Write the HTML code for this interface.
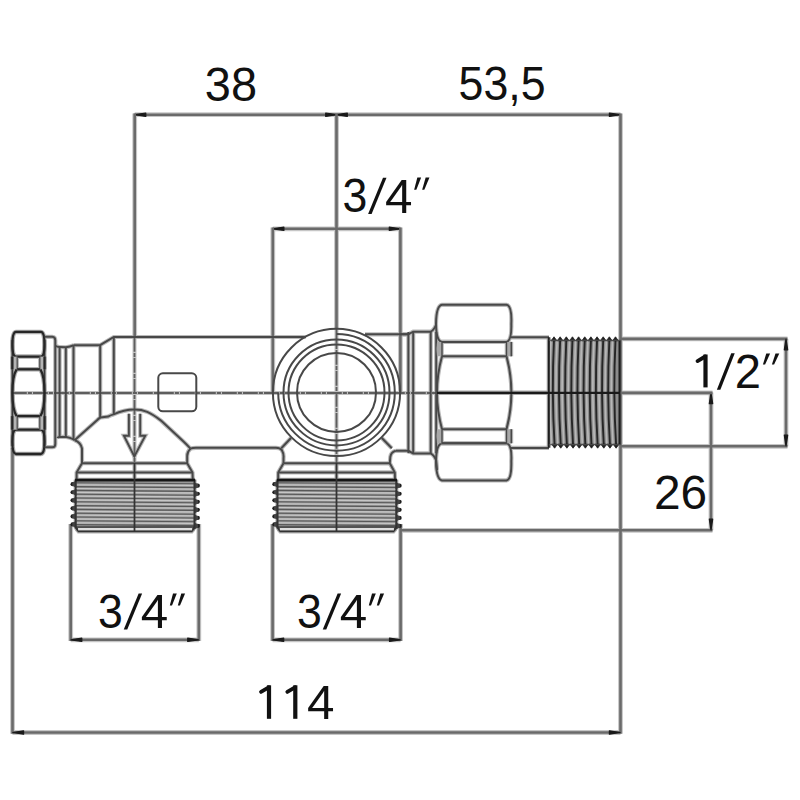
<!DOCTYPE html>
<html><head><meta charset="utf-8"><style>
html,body{margin:0;padding:0;background:#fff;}
svg{display:block;}
</style></head><body>
<svg width="800" height="800" viewBox="0 0 800 800">
<rect width="800" height="800" fill="#fff"/>
<line x1="134.7" y1="114.7" x2="620.5" y2="114.7" stroke="#c6c6c6" stroke-width="4.80" />
<line x1="134.7" y1="113.4" x2="134.7" y2="337" stroke="#c6c6c6" stroke-width="4.80" />
<line x1="336.5" y1="113.4" x2="336.5" y2="329" stroke="#c6c6c6" stroke-width="4.80" />
<line x1="620.5" y1="113.4" x2="620.5" y2="733.8" stroke="#c6c6c6" stroke-width="4.80" />
<line x1="272.8" y1="228.8" x2="400.4" y2="228.8" stroke="#c6c6c6" stroke-width="4.80" />
<line x1="272.8" y1="227.5" x2="272.8" y2="392.4" stroke="#c6c6c6" stroke-width="4.80" />
<line x1="400.4" y1="227.5" x2="400.4" y2="392.4" stroke="#c6c6c6" stroke-width="4.80" />
<line x1="12.5" y1="448" x2="12.5" y2="733.8" stroke="#c6c6c6" stroke-width="4.80" />
<line x1="12.5" y1="732.5" x2="620.5" y2="732.5" stroke="#c6c6c6" stroke-width="4.80" />
<line x1="70.7" y1="524" x2="70.7" y2="641" stroke="#c6c6c6" stroke-width="4.80" />
<line x1="198.8" y1="524" x2="198.8" y2="641" stroke="#c6c6c6" stroke-width="4.80" />
<line x1="70.7" y1="639.8" x2="198.8" y2="639.8" stroke="#c6c6c6" stroke-width="4.80" />
<line x1="272.6" y1="524" x2="272.6" y2="641" stroke="#c6c6c6" stroke-width="4.80" />
<line x1="400.6" y1="524" x2="400.6" y2="641" stroke="#c6c6c6" stroke-width="4.80" />
<line x1="272.6" y1="639.8" x2="400.6" y2="639.8" stroke="#c6c6c6" stroke-width="4.80" />
<line x1="620.5" y1="338.9" x2="787.5" y2="338.9" stroke="#c6c6c6" stroke-width="4.80" />
<line x1="620.5" y1="446.3" x2="787.5" y2="446.3" stroke="#c6c6c6" stroke-width="4.80" />
<line x1="786" y1="338.9" x2="786" y2="446.3" stroke="#c6c6c6" stroke-width="4.80" />
<line x1="400.6" y1="530.3" x2="712.5" y2="530.3" stroke="#c6c6c6" stroke-width="4.80" />
<line x1="711" y1="392.6" x2="711" y2="530.3" stroke="#c6c6c6" stroke-width="4.80" />
<line x1="12" y1="393.0" x2="438" y2="393.0" stroke="#c1c1c1" stroke-width="4.00" />
<line x1="134.5" y1="337" x2="134.5" y2="463" stroke="#c1c1c1" stroke-width="4.00" />
<line x1="336.5" y1="329" x2="336.5" y2="463" stroke="#c1c1c1" stroke-width="4.00" />
<line x1="12.4" y1="340" x2="12.4" y2="446" stroke="#b4b4b4" stroke-width="4.00" />
<line x1="44.5" y1="340" x2="44.5" y2="446" stroke="#b4b4b4" stroke-width="4.00" />
<path d="M16.0,331.9 L40.9,331.9 C43.7,331.9 44.5,337.46 44.5,344.25 C44.5,351.04 43.7,356.6 40.9,356.6 L16.0,356.6 C13.200000000000001,356.6 12.4,351.04 12.4,344.25 C12.4,337.46 13.200000000000001,331.9 16.0,331.9 Z" fill="none" stroke="#acacac" stroke-width="4.50" />
<path d="M16.0,429.7 L40.9,429.7 C43.7,429.7 44.5,435.17 44.5,441.85 C44.5,448.53 43.7,454.0 40.9,454.0 L16.0,454.0 C13.200000000000001,454.0 12.4,448.53 12.4,441.85 C12.4,435.17 13.200000000000001,429.7 16.0,429.7 Z" fill="none" stroke="#acacac" stroke-width="4.50" />
<line x1="12.4" y1="356.6" x2="12.4" y2="369.3" stroke="#acacac" stroke-width="4.50" />
<line x1="44.5" y1="356.6" x2="44.5" y2="369.3" stroke="#acacac" stroke-width="4.50" />
<line x1="17.2" y1="356.6" x2="17.2" y2="369.3" stroke="#bebebe" stroke-width="3.60" />
<line x1="39.8" y1="356.6" x2="39.8" y2="369.3" stroke="#bebebe" stroke-width="3.60" />
<line x1="17.2" y1="369.3" x2="39.8" y2="369.3" stroke="#acacac" stroke-width="4.50" />
<line x1="12.4" y1="416.1" x2="12.4" y2="429.7" stroke="#acacac" stroke-width="4.50" />
<line x1="44.5" y1="416.1" x2="44.5" y2="429.7" stroke="#acacac" stroke-width="4.50" />
<line x1="17.2" y1="416.1" x2="17.2" y2="429.7" stroke="#bebebe" stroke-width="3.60" />
<line x1="39.8" y1="416.1" x2="39.8" y2="429.7" stroke="#bebebe" stroke-width="3.60" />
<line x1="17.2" y1="416.1" x2="39.8" y2="416.1" stroke="#acacac" stroke-width="4.50" />
<path d="M16.599999999999998,369.3 C13.0,375 12.4,384 12.4,392.7 C12.4,401.4 13.0,410.4 16.599999999999998,416.1" fill="none" stroke="#acacac" stroke-width="4.50" />
<path d="M40.4,369.3 C43.9,375 44.5,384 44.5,392.7 C44.5,401.4 43.9,410.4 40.4,416.1" fill="none" stroke="#acacac" stroke-width="4.50" />
<path d="M44.6,336.8 L52.3,336.8 Q55.3,337 55.3,340.5 L55.3,444 Q55.3,447.2 52.3,447.2 L44.6,447.2" fill="none" stroke="#b9b9b9" stroke-width="4.20" />
<path d="M55.3,345.8 Q57,347 59.5,347 L66,347.3 Q70,346.5 73.7,345.2" fill="none" stroke="#b9b9b9" stroke-width="4.20" />
<path d="M57.2,438 Q58,437 59.5,436.9 L66.3,436.9 Q70,437.5 73.2,439.2 L74.6,440.3" fill="none" stroke="#b9b9b9" stroke-width="4.20" />
<line x1="59.6" y1="347" x2="59.6" y2="437" stroke="#b9b9b9" stroke-width="4.20" />
<line x1="65.8" y1="347" x2="65.8" y2="437" stroke="#b9b9b9" stroke-width="4.20" />
<line x1="73.5" y1="345.2" x2="73.5" y2="439.5" stroke="#b9b9b9" stroke-width="4.20" />
<path d="M73.5,345.2 L100.0,345.2 L113.8,337.0 L305.8,337.0" fill="none" stroke="#b9b9b9" stroke-width="4.20" />
<line x1="100.2" y1="345.2" x2="100.2" y2="417.5" stroke="#b9b9b9" stroke-width="4.20" />
<line x1="113.8" y1="337.0" x2="113.8" y2="414.6" stroke="#b9b9b9" stroke-width="4.20" />
<path d="M74.6,440.3 L97,420.2 Q99,418.1 100.5,417.5 L108,416.6 Q111,415 113.5,414.4 C120,411.5 127,409.6 134.3,409.6 C144,409.6 150,412 161,420.6 L183.5,441.5 Q187,444.8 190.5,448.6" fill="none" stroke="#b9b9b9" stroke-width="4.20" />
<path d="M74.6,440.3 Q80.5,442 82,448.5 L82,463.2 L76.6,472.5 L76.6,480.5" fill="none" stroke="#b9b9b9" stroke-width="4.20" />
<path d="M190.5,448.6 Q187,452 187.2,456 L187.2,463.2 L192.5,472.5 L192.8,480.5" fill="none" stroke="#b9b9b9" stroke-width="4.20" />
<path d="M190.5,448.6 Q192.5,447.8 196,447.8 L276,447.8 Q280,447.8 281.8,450 Q284,454 283.5,458 L283.5,463.2" fill="none" stroke="#b9b9b9" stroke-width="4.20" />
<line x1="82" y1="463.2" x2="187.2" y2="463.2" stroke="#b9b9b9" stroke-width="4.20" />
<line x1="76.6" y1="472.4" x2="192.5" y2="472.4" stroke="#b9b9b9" stroke-width="4.20" />
<path d="M283.5,463.2 L278.2,472.5 L278.2,480.5" fill="none" stroke="#b9b9b9" stroke-width="4.20" />
<path d="M395.8,450.8 Q391,452 390.3,457 L389.8,463.2 L394.8,472.5 L395,480.5" fill="none" stroke="#b9b9b9" stroke-width="4.20" />
<line x1="283.5" y1="463.3" x2="389.8" y2="463.3" stroke="#b9b9b9" stroke-width="4.20" />
<line x1="278.2" y1="472.4" x2="394.8" y2="472.4" stroke="#b9b9b9" stroke-width="4.20" />
<path d="M128.9,413.8 L128.9,435.8 L123.9,435.8 L134.3,456.4 L145.3,435.8 L140.2,435.8 L140.2,413.8" fill="none" stroke="#b9b9b9" stroke-width="4.10" />
<line x1="75.6" y1="479.6" x2="75.6" y2="528.2" stroke="#b1b1b1" stroke-width="4.00" />
<line x1="194.60000000000002" y1="479.6" x2="194.60000000000002" y2="528.2" stroke="#b1b1b1" stroke-width="4.00" />
<line x1="75.1" y1="480.20000000000005" x2="195.10000000000002" y2="480.20000000000005" stroke="#a6a6a6" stroke-width="5.00" />
<path d="M75.6,527.2 L78.6,531.2 L191.60000000000002,531.2 L194.60000000000002,527.2" fill="none" stroke="#b1b1b1" stroke-width="4.40" />
<line x1="75.6" y1="527.0" x2="194.60000000000002" y2="527.0" stroke="#b1b1b1" stroke-width="3.80" />
<line x1="277.4" y1="479.6" x2="277.4" y2="528.2" stroke="#b1b1b1" stroke-width="4.00" />
<line x1="396.40000000000003" y1="479.6" x2="396.40000000000003" y2="528.2" stroke="#b1b1b1" stroke-width="4.00" />
<line x1="276.9" y1="480.20000000000005" x2="396.90000000000003" y2="480.20000000000005" stroke="#a6a6a6" stroke-width="5.00" />
<path d="M277.4,527.2 L280.4,531.2 L393.40000000000003,531.2 L396.40000000000003,527.2" fill="none" stroke="#b1b1b1" stroke-width="4.40" />
<line x1="277.4" y1="527.0" x2="396.40000000000003" y2="527.0" stroke="#b1b1b1" stroke-width="3.80" />
<line x1="134.5" y1="463" x2="134.5" y2="531.5" stroke="#b1b1b1" stroke-width="4.00" />
<line x1="336.5" y1="463" x2="336.5" y2="531.5" stroke="#b1b1b1" stroke-width="4.00" />
<line x1="291" y1="438" x2="281.3" y2="448.2" stroke="#b9b9b9" stroke-width="4.20" />
<line x1="381.8" y1="438" x2="391.8" y2="448.2" stroke="#b9b9b9" stroke-width="4.20" />
<line x1="365" y1="334.3" x2="408.5" y2="334.3" stroke="#b9b9b9" stroke-width="4.20" />
<path d="M400.4,334.3 L408.4,334.3 L413.2,331.7 L430.7,331.7 Q434,330 436.2,324.5" fill="none" stroke="#b9b9b9" stroke-width="4.20" />
<path d="M395.8,450.8 L408.4,450.8 L413.2,453.4 L430.7,453.4 Q434,455 436.2,460.5 L437,470" fill="none" stroke="#b9b9b9" stroke-width="4.20" />
<line x1="408.4" y1="332" x2="408.4" y2="453.2" stroke="#b9b9b9" stroke-width="4.20" />
<line x1="413.2" y1="332" x2="413.2" y2="453.2" stroke="#b9b9b9" stroke-width="4.20" />
<line x1="430.7" y1="332" x2="430.7" y2="453.2" stroke="#b9b9b9" stroke-width="4.20" />
<line x1="436.2" y1="332" x2="436.2" y2="453.2" stroke="#b9b9b9" stroke-width="4.20" />
<path d="M442.0,304.8 L506.5,304.8 Q512.1,305.8 511.3,323.9 Q511.8,340.9 506.5,341.9 L442.0,341.9 Q436.2,340.9 436.0,323.9 Q436.2,305.8 442.0,304.8 Z" fill="none" stroke="#b9b9b9" stroke-width="4.20" />
<path d="M442.0,443.3 L506.5,443.3 Q512.1,444.3 511.3,461.3 Q511.8,479.4 506.5,480.4 L442.0,480.4 Q436.2,479.4 436.0,461.3 Q436.2,444.3 442.0,443.3 Z" fill="none" stroke="#b9b9b9" stroke-width="4.20" />
<line x1="511.3" y1="341.9" x2="511.3" y2="356.3" stroke="#b9b9b9" stroke-width="3.80" />
<line x1="442.0" y1="341.9" x2="442.0" y2="356.3" stroke="#b9b9b9" stroke-width="3.60" />
<line x1="506.5" y1="341.9" x2="506.5" y2="356.3" stroke="#b9b9b9" stroke-width="3.60" />
<line x1="442.0" y1="341.9" x2="506.5" y2="341.9" stroke="#b9b9b9" stroke-width="4.20" />
<line x1="442.0" y1="356.3" x2="506.5" y2="356.3" stroke="#b9b9b9" stroke-width="4.20" />
<line x1="511.3" y1="429.2" x2="511.3" y2="443.3" stroke="#b9b9b9" stroke-width="3.80" />
<line x1="442.0" y1="429.2" x2="442.0" y2="443.3" stroke="#b9b9b9" stroke-width="3.60" />
<line x1="506.5" y1="429.2" x2="506.5" y2="443.3" stroke="#b9b9b9" stroke-width="3.60" />
<line x1="442.0" y1="429.2" x2="506.5" y2="429.2" stroke="#b9b9b9" stroke-width="4.20" />
<line x1="442.0" y1="443.3" x2="506.5" y2="443.3" stroke="#b9b9b9" stroke-width="4.20" />
<path d="M442.0,356.3 Q432.0,392.7 442.0,429.2" fill="none" stroke="#b9b9b9" stroke-width="4.20" />
<path d="M506.5,356.3 Q516.3,392.7 506.5,429.2" fill="none" stroke="#b9b9b9" stroke-width="4.20" />
<line x1="511" y1="337.3" x2="549" y2="337.3" stroke="#b9b9b9" stroke-width="4.20" />
<line x1="511" y1="447.9" x2="549" y2="447.9" stroke="#b9b9b9" stroke-width="4.20" />
<line x1="548.8" y1="337.3" x2="548.8" y2="447.7" stroke="#a9a9a9" stroke-width="4.20" />
<line x1="619.6" y1="340.2" x2="619.6" y2="444.8" stroke="#a9a9a9" stroke-width="4.40" />
<line x1="437" y1="392.8" x2="620.5" y2="392.8" stroke="#a7a7a7" stroke-width="4.40" />
<line x1="620.5" y1="392.9" x2="712.5" y2="392.9" stroke="#c6c6c6" stroke-width="4.80" />
<line x1="134.7" y1="114.7" x2="620.5" y2="114.7" stroke="#6a6a6a" stroke-width="2.6" />
<path d="M135.0,114.7 L145.80,113.00 L145.80,116.40 Z" fill="#1a1a1a" stroke="#1a1a1a" stroke-width="1.2" stroke-linejoin="round"/>
<path d="M336.5,114.7 L325.70,116.40 L325.70,113.00 Z" fill="#1a1a1a" stroke="#1a1a1a" stroke-width="1.2" stroke-linejoin="round"/>
<path d="M336.5,114.7 L347.30,113.00 L347.30,116.40 Z" fill="#1a1a1a" stroke="#1a1a1a" stroke-width="1.2" stroke-linejoin="round"/>
<path d="M620.2,114.7 L609.40,116.40 L609.40,113.00 Z" fill="#1a1a1a" stroke="#1a1a1a" stroke-width="1.2" stroke-linejoin="round"/>
<line x1="134.7" y1="113.4" x2="134.7" y2="337" stroke="#6a6a6a" stroke-width="2.6" />
<line x1="336.5" y1="113.4" x2="336.5" y2="329" stroke="#6a6a6a" stroke-width="2.6" />
<line x1="620.5" y1="113.4" x2="620.5" y2="733.8" stroke="#6a6a6a" stroke-width="2.6" />
<line x1="272.8" y1="228.8" x2="400.4" y2="228.8" stroke="#6a6a6a" stroke-width="2.6" />
<path d="M273.1,228.8 L283.90,227.10 L283.90,230.50 Z" fill="#1a1a1a" stroke="#1a1a1a" stroke-width="1.2" stroke-linejoin="round"/>
<path d="M400.1,228.8 L389.30,230.50 L389.30,227.10 Z" fill="#1a1a1a" stroke="#1a1a1a" stroke-width="1.2" stroke-linejoin="round"/>
<line x1="272.8" y1="227.5" x2="272.8" y2="392.4" stroke="#6a6a6a" stroke-width="2.6" />
<line x1="400.4" y1="227.5" x2="400.4" y2="392.4" stroke="#6a6a6a" stroke-width="2.6" />
<line x1="12.5" y1="448" x2="12.5" y2="733.8" stroke="#6a6a6a" stroke-width="2.6" />
<line x1="12.5" y1="732.5" x2="620.5" y2="732.5" stroke="#6a6a6a" stroke-width="2.6" />
<path d="M12.8,732.5 L23.60,730.80 L23.60,734.20 Z" fill="#1a1a1a" stroke="#1a1a1a" stroke-width="1.2" stroke-linejoin="round"/>
<path d="M620.2,732.5 L609.40,734.20 L609.40,730.80 Z" fill="#1a1a1a" stroke="#1a1a1a" stroke-width="1.2" stroke-linejoin="round"/>
<line x1="70.7" y1="524" x2="70.7" y2="641" stroke="#6a6a6a" stroke-width="2.6" />
<line x1="198.8" y1="524" x2="198.8" y2="641" stroke="#6a6a6a" stroke-width="2.6" />
<line x1="70.7" y1="639.8" x2="198.8" y2="639.8" stroke="#6a6a6a" stroke-width="2.6" />
<path d="M71,639.8 L81.80,638.10 L81.80,641.50 Z" fill="#1a1a1a" stroke="#1a1a1a" stroke-width="1.2" stroke-linejoin="round"/>
<path d="M198.5,639.8 L187.70,641.50 L187.70,638.10 Z" fill="#1a1a1a" stroke="#1a1a1a" stroke-width="1.2" stroke-linejoin="round"/>
<line x1="272.6" y1="524" x2="272.6" y2="641" stroke="#6a6a6a" stroke-width="2.6" />
<line x1="400.6" y1="524" x2="400.6" y2="641" stroke="#6a6a6a" stroke-width="2.6" />
<line x1="272.6" y1="639.8" x2="400.6" y2="639.8" stroke="#6a6a6a" stroke-width="2.6" />
<path d="M272.9,639.8 L283.70,638.10 L283.70,641.50 Z" fill="#1a1a1a" stroke="#1a1a1a" stroke-width="1.2" stroke-linejoin="round"/>
<path d="M400.3,639.8 L389.50,641.50 L389.50,638.10 Z" fill="#1a1a1a" stroke="#1a1a1a" stroke-width="1.2" stroke-linejoin="round"/>
<line x1="620.5" y1="338.9" x2="787.5" y2="338.9" stroke="#6a6a6a" stroke-width="2.6" />
<line x1="620.5" y1="446.3" x2="787.5" y2="446.3" stroke="#6a6a6a" stroke-width="2.6" />
<line x1="786" y1="338.9" x2="786" y2="446.3" stroke="#6a6a6a" stroke-width="2.6" />
<path d="M786,339 L787.70,349.80 L784.30,349.80 Z" fill="#1a1a1a" stroke="#1a1a1a" stroke-width="1.2" stroke-linejoin="round"/>
<path d="M786,446 L784.30,435.20 L787.70,435.20 Z" fill="#1a1a1a" stroke="#1a1a1a" stroke-width="1.2" stroke-linejoin="round"/>
<line x1="400.6" y1="530.3" x2="712.5" y2="530.3" stroke="#6a6a6a" stroke-width="2.6" />
<line x1="711" y1="392.6" x2="711" y2="530.3" stroke="#6a6a6a" stroke-width="2.6" />
<path d="M711,392.9 L712.70,403.70 L709.30,403.70 Z" fill="#1a1a1a" stroke="#1a1a1a" stroke-width="1.2" stroke-linejoin="round"/>
<path d="M711,530 L709.30,519.20 L712.70,519.20 Z" fill="#1a1a1a" stroke="#1a1a1a" stroke-width="1.2" stroke-linejoin="round"/>
<line x1="12" y1="393.0" x2="438" y2="393.0" stroke="#5e5e5e" stroke-width="1.8" stroke-dasharray="14.8 1.1 4 1.1"/>
<line x1="134.5" y1="337" x2="134.5" y2="463" stroke="#5e5e5e" stroke-width="1.8" stroke-dasharray="14.8 1.1 4 1.1"/>
<line x1="336.5" y1="329" x2="336.5" y2="463" stroke="#5e5e5e" stroke-width="1.8" stroke-dasharray="14.8 1.1 4 1.1"/>
<line x1="12.4" y1="340" x2="12.4" y2="446" stroke="#3a3a3a" stroke-width="1.8" />
<line x1="44.5" y1="340" x2="44.5" y2="446" stroke="#3a3a3a" stroke-width="1.8" />
<path d="M16.0,331.9 L40.9,331.9 C43.7,331.9 44.5,337.46 44.5,344.25 C44.5,351.04 43.7,356.6 40.9,356.6 L16.0,356.6 C13.200000000000001,356.6 12.4,351.04 12.4,344.25 C12.4,337.46 13.200000000000001,331.9 16.0,331.9 Z" fill="none" stroke="#262626" stroke-width="2.3" />
<path d="M16.0,429.7 L40.9,429.7 C43.7,429.7 44.5,435.17 44.5,441.85 C44.5,448.53 43.7,454.0 40.9,454.0 L16.0,454.0 C13.200000000000001,454.0 12.4,448.53 12.4,441.85 C12.4,435.17 13.200000000000001,429.7 16.0,429.7 Z" fill="none" stroke="#262626" stroke-width="2.3" />
<rect x="12.4" y="356.6" width="4.799999999999999" height="12.699999999999989" fill="#b4b4b4"/>
<rect x="39.8" y="356.6" width="4.700000000000003" height="12.699999999999989" fill="#b4b4b4"/>
<line x1="12.4" y1="356.6" x2="12.4" y2="369.3" stroke="#262626" stroke-width="2.3" />
<line x1="44.5" y1="356.6" x2="44.5" y2="369.3" stroke="#262626" stroke-width="2.3" />
<line x1="17.2" y1="356.6" x2="17.2" y2="369.3" stroke="#555" stroke-width="1.4" />
<line x1="39.8" y1="356.6" x2="39.8" y2="369.3" stroke="#555" stroke-width="1.4" />
<line x1="17.2" y1="369.3" x2="39.8" y2="369.3" stroke="#262626" stroke-width="2.3" />
<rect x="12.4" y="416.1" width="4.799999999999999" height="13.599999999999966" fill="#b4b4b4"/>
<rect x="39.8" y="416.1" width="4.700000000000003" height="13.599999999999966" fill="#b4b4b4"/>
<line x1="12.4" y1="416.1" x2="12.4" y2="429.7" stroke="#262626" stroke-width="2.3" />
<line x1="44.5" y1="416.1" x2="44.5" y2="429.7" stroke="#262626" stroke-width="2.3" />
<line x1="17.2" y1="416.1" x2="17.2" y2="429.7" stroke="#555" stroke-width="1.4" />
<line x1="39.8" y1="416.1" x2="39.8" y2="429.7" stroke="#555" stroke-width="1.4" />
<line x1="17.2" y1="416.1" x2="39.8" y2="416.1" stroke="#262626" stroke-width="2.3" />
<path d="M16.599999999999998,369.3 C13.0,375 12.4,384 12.4,392.7 C12.4,401.4 13.0,410.4 16.599999999999998,416.1" fill="none" stroke="#262626" stroke-width="2.3" />
<path d="M40.4,369.3 C43.9,375 44.5,384 44.5,392.7 C44.5,401.4 43.9,410.4 40.4,416.1" fill="none" stroke="#262626" stroke-width="2.3" />
<path d="M44.6,336.8 L52.3,336.8 Q55.3,337 55.3,340.5 L55.3,444 Q55.3,447.2 52.3,447.2 L44.6,447.2" fill="none" stroke="#484848" stroke-width="2.0" />
<path d="M55.3,345.8 Q57,347 59.5,347 L66,347.3 Q70,346.5 73.7,345.2" fill="none" stroke="#484848" stroke-width="2.0" />
<path d="M57.2,438 Q58,437 59.5,436.9 L66.3,436.9 Q70,437.5 73.2,439.2 L74.6,440.3" fill="none" stroke="#484848" stroke-width="2.0" />
<line x1="59.6" y1="347" x2="59.6" y2="437" stroke="#484848" stroke-width="2.0" />
<line x1="65.8" y1="347" x2="65.8" y2="437" stroke="#484848" stroke-width="2.0" />
<line x1="73.5" y1="345.2" x2="73.5" y2="439.5" stroke="#484848" stroke-width="2.0" />
<path d="M73.5,345.2 L100.0,345.2 L113.8,337.0 L305.8,337.0" fill="none" stroke="#484848" stroke-width="2.0" />
<line x1="100.2" y1="345.2" x2="100.2" y2="417.5" stroke="#484848" stroke-width="2.0" />
<line x1="113.8" y1="337.0" x2="113.8" y2="414.6" stroke="#484848" stroke-width="2.0" />
<path d="M74.6,440.3 L97,420.2 Q99,418.1 100.5,417.5 L108,416.6 Q111,415 113.5,414.4 C120,411.5 127,409.6 134.3,409.6 C144,409.6 150,412 161,420.6 L183.5,441.5 Q187,444.8 190.5,448.6" fill="none" stroke="#484848" stroke-width="2.0" />
<path d="M74.6,440.3 Q80.5,442 82,448.5 L82,463.2 L76.6,472.5 L76.6,480.5" fill="none" stroke="#484848" stroke-width="2.0" />
<path d="M190.5,448.6 Q187,452 187.2,456 L187.2,463.2 L192.5,472.5 L192.8,480.5" fill="none" stroke="#484848" stroke-width="2.0" />
<path d="M190.5,448.6 Q192.5,447.8 196,447.8 L276,447.8 Q280,447.8 281.8,450 Q284,454 283.5,458 L283.5,463.2" fill="none" stroke="#484848" stroke-width="2.0" />
<line x1="82" y1="463.2" x2="187.2" y2="463.2" stroke="#484848" stroke-width="2.0" />
<line x1="76.6" y1="472.4" x2="192.5" y2="472.4" stroke="#484848" stroke-width="2.0" />
<path d="M283.5,463.2 L278.2,472.5 L278.2,480.5" fill="none" stroke="#484848" stroke-width="2.0" />
<path d="M395.8,450.8 Q391,452 390.3,457 L389.8,463.2 L394.8,472.5 L395,480.5" fill="none" stroke="#484848" stroke-width="2.0" />
<line x1="283.5" y1="463.3" x2="389.8" y2="463.3" stroke="#484848" stroke-width="2.0" />
<line x1="278.2" y1="472.4" x2="394.8" y2="472.4" stroke="#484848" stroke-width="2.0" />
<rect x="158.3" y="373.3" width="38" height="38" rx="4.5" fill="none" stroke="#484848" stroke-width="2.0"/>
<path d="M128.9,413.8 L128.9,435.8 L123.9,435.8 L134.3,456.4 L145.3,435.8 L140.2,435.8 L140.2,413.8" fill="none" stroke="#484848" stroke-width="1.9" />
<rect x="75.6" y="479.6" width="119.00000000000003" height="51.60000000000002" fill="#989898"/>
<line x1="75.6" y1="482.80" x2="194.60000000000002" y2="483.80" stroke="#585858" stroke-width="1.1"/>
<line x1="75.6" y1="484.80" x2="194.60000000000002" y2="485.40" stroke="#c6c6c6" stroke-width="1.3"/>
<line x1="75.6" y1="486.60" x2="194.60000000000002" y2="487.60" stroke="#585858" stroke-width="1.1"/>
<line x1="75.6" y1="488.60" x2="194.60000000000002" y2="489.20" stroke="#c6c6c6" stroke-width="1.3"/>
<line x1="75.6" y1="490.40" x2="194.60000000000002" y2="491.40" stroke="#585858" stroke-width="1.1"/>
<line x1="75.6" y1="492.40" x2="194.60000000000002" y2="493.00" stroke="#c6c6c6" stroke-width="1.3"/>
<line x1="75.6" y1="494.20" x2="194.60000000000002" y2="495.20" stroke="#585858" stroke-width="1.1"/>
<line x1="75.6" y1="496.20" x2="194.60000000000002" y2="496.80" stroke="#c6c6c6" stroke-width="1.3"/>
<line x1="75.6" y1="498.00" x2="194.60000000000002" y2="499.00" stroke="#585858" stroke-width="1.1"/>
<line x1="75.6" y1="500.00" x2="194.60000000000002" y2="500.60" stroke="#c6c6c6" stroke-width="1.3"/>
<line x1="75.6" y1="501.80" x2="194.60000000000002" y2="502.80" stroke="#585858" stroke-width="1.1"/>
<line x1="75.6" y1="503.80" x2="194.60000000000002" y2="504.40" stroke="#c6c6c6" stroke-width="1.3"/>
<line x1="75.6" y1="505.60" x2="194.60000000000002" y2="506.60" stroke="#585858" stroke-width="1.1"/>
<line x1="75.6" y1="507.60" x2="194.60000000000002" y2="508.20" stroke="#c6c6c6" stroke-width="1.3"/>
<line x1="75.6" y1="509.40" x2="194.60000000000002" y2="510.40" stroke="#585858" stroke-width="1.1"/>
<line x1="75.6" y1="511.40" x2="194.60000000000002" y2="512.00" stroke="#c6c6c6" stroke-width="1.3"/>
<line x1="75.6" y1="513.20" x2="194.60000000000002" y2="514.20" stroke="#585858" stroke-width="1.1"/>
<line x1="75.6" y1="515.20" x2="194.60000000000002" y2="515.80" stroke="#c6c6c6" stroke-width="1.3"/>
<line x1="75.6" y1="517.00" x2="194.60000000000002" y2="518.00" stroke="#585858" stroke-width="1.1"/>
<line x1="75.6" y1="519.00" x2="194.60000000000002" y2="519.60" stroke="#c6c6c6" stroke-width="1.3"/>
<line x1="75.6" y1="520.80" x2="194.60000000000002" y2="521.80" stroke="#585858" stroke-width="1.1"/>
<line x1="75.6" y1="522.80" x2="194.60000000000002" y2="523.40" stroke="#c6c6c6" stroke-width="1.3"/>
<line x1="75.6" y1="524.60" x2="194.60000000000002" y2="525.60" stroke="#585858" stroke-width="1.1"/>
<line x1="75.6" y1="526.60" x2="194.60000000000002" y2="527.20" stroke="#c6c6c6" stroke-width="1.3"/>
<circle cx="72.60" cy="484.20" r="2.1" fill="#1e1e1e"/>
<path d="M72.30,482.60 L76.60,480.40 L76.60,488.00 L72.30,485.80 Z" fill="#444"/>
<circle cx="197.80" cy="485.70" r="2.1" fill="#1e1e1e"/>
<path d="M198.10,484.10 L193.60,481.90 L193.60,489.50 L198.10,487.30 Z" fill="#444"/>
<circle cx="72.60" cy="492.25" r="2.1" fill="#1e1e1e"/>
<path d="M72.30,490.65 L76.60,488.45 L76.60,496.05 L72.30,493.85 Z" fill="#444"/>
<circle cx="197.80" cy="493.75" r="2.1" fill="#1e1e1e"/>
<path d="M198.10,492.15 L193.60,489.95 L193.60,497.55 L198.10,495.35 Z" fill="#444"/>
<circle cx="72.60" cy="500.30" r="2.1" fill="#1e1e1e"/>
<path d="M72.30,498.70 L76.60,496.50 L76.60,504.10 L72.30,501.90 Z" fill="#444"/>
<circle cx="197.80" cy="501.80" r="2.1" fill="#1e1e1e"/>
<path d="M198.10,500.20 L193.60,498.00 L193.60,505.60 L198.10,503.40 Z" fill="#444"/>
<circle cx="72.60" cy="508.35" r="2.1" fill="#1e1e1e"/>
<path d="M72.30,506.75 L76.60,504.55 L76.60,512.15 L72.30,509.95 Z" fill="#444"/>
<circle cx="197.80" cy="509.85" r="2.1" fill="#1e1e1e"/>
<path d="M198.10,508.25 L193.60,506.05 L193.60,513.65 L198.10,511.45 Z" fill="#444"/>
<circle cx="72.60" cy="516.40" r="2.1" fill="#1e1e1e"/>
<path d="M72.30,514.80 L76.60,512.60 L76.60,520.20 L72.30,518.00 Z" fill="#444"/>
<circle cx="197.80" cy="517.90" r="2.1" fill="#1e1e1e"/>
<path d="M198.10,516.30 L193.60,514.10 L193.60,521.70 L198.10,519.50 Z" fill="#444"/>
<circle cx="72.60" cy="524.45" r="2.1" fill="#1e1e1e"/>
<path d="M72.30,522.85 L76.60,520.65 L76.60,528.25 L72.30,526.05 Z" fill="#444"/>
<circle cx="197.80" cy="525.95" r="2.1" fill="#1e1e1e"/>
<path d="M198.10,524.35 L193.60,522.15 L193.60,529.75 L198.10,527.55 Z" fill="#444"/>
<line x1="75.6" y1="479.6" x2="75.6" y2="528.2" stroke="#333" stroke-width="1.8" />
<line x1="194.60000000000002" y1="479.6" x2="194.60000000000002" y2="528.2" stroke="#333" stroke-width="1.8" />
<line x1="75.1" y1="480.20000000000005" x2="195.10000000000002" y2="480.20000000000005" stroke="#151515" stroke-width="2.8" />
<path d="M75.6,527.2 L78.6,531.2 L191.60000000000002,531.2 L194.60000000000002,527.2" fill="none" stroke="#333" stroke-width="2.2" />
<rect x="78.1" y="528.0" width="114.00000000000003" height="2.4" fill="#dedede"/>
<line x1="75.6" y1="527.0" x2="194.60000000000002" y2="527.0" stroke="#333" stroke-width="1.6" />
<rect x="277.4" y="479.6" width="119.00000000000006" height="51.60000000000002" fill="#989898"/>
<line x1="277.4" y1="482.80" x2="396.40000000000003" y2="483.80" stroke="#585858" stroke-width="1.1"/>
<line x1="277.4" y1="484.80" x2="396.40000000000003" y2="485.40" stroke="#c6c6c6" stroke-width="1.3"/>
<line x1="277.4" y1="486.60" x2="396.40000000000003" y2="487.60" stroke="#585858" stroke-width="1.1"/>
<line x1="277.4" y1="488.60" x2="396.40000000000003" y2="489.20" stroke="#c6c6c6" stroke-width="1.3"/>
<line x1="277.4" y1="490.40" x2="396.40000000000003" y2="491.40" stroke="#585858" stroke-width="1.1"/>
<line x1="277.4" y1="492.40" x2="396.40000000000003" y2="493.00" stroke="#c6c6c6" stroke-width="1.3"/>
<line x1="277.4" y1="494.20" x2="396.40000000000003" y2="495.20" stroke="#585858" stroke-width="1.1"/>
<line x1="277.4" y1="496.20" x2="396.40000000000003" y2="496.80" stroke="#c6c6c6" stroke-width="1.3"/>
<line x1="277.4" y1="498.00" x2="396.40000000000003" y2="499.00" stroke="#585858" stroke-width="1.1"/>
<line x1="277.4" y1="500.00" x2="396.40000000000003" y2="500.60" stroke="#c6c6c6" stroke-width="1.3"/>
<line x1="277.4" y1="501.80" x2="396.40000000000003" y2="502.80" stroke="#585858" stroke-width="1.1"/>
<line x1="277.4" y1="503.80" x2="396.40000000000003" y2="504.40" stroke="#c6c6c6" stroke-width="1.3"/>
<line x1="277.4" y1="505.60" x2="396.40000000000003" y2="506.60" stroke="#585858" stroke-width="1.1"/>
<line x1="277.4" y1="507.60" x2="396.40000000000003" y2="508.20" stroke="#c6c6c6" stroke-width="1.3"/>
<line x1="277.4" y1="509.40" x2="396.40000000000003" y2="510.40" stroke="#585858" stroke-width="1.1"/>
<line x1="277.4" y1="511.40" x2="396.40000000000003" y2="512.00" stroke="#c6c6c6" stroke-width="1.3"/>
<line x1="277.4" y1="513.20" x2="396.40000000000003" y2="514.20" stroke="#585858" stroke-width="1.1"/>
<line x1="277.4" y1="515.20" x2="396.40000000000003" y2="515.80" stroke="#c6c6c6" stroke-width="1.3"/>
<line x1="277.4" y1="517.00" x2="396.40000000000003" y2="518.00" stroke="#585858" stroke-width="1.1"/>
<line x1="277.4" y1="519.00" x2="396.40000000000003" y2="519.60" stroke="#c6c6c6" stroke-width="1.3"/>
<line x1="277.4" y1="520.80" x2="396.40000000000003" y2="521.80" stroke="#585858" stroke-width="1.1"/>
<line x1="277.4" y1="522.80" x2="396.40000000000003" y2="523.40" stroke="#c6c6c6" stroke-width="1.3"/>
<line x1="277.4" y1="524.60" x2="396.40000000000003" y2="525.60" stroke="#585858" stroke-width="1.1"/>
<line x1="277.4" y1="526.60" x2="396.40000000000003" y2="527.20" stroke="#c6c6c6" stroke-width="1.3"/>
<circle cx="274.40" cy="484.20" r="2.1" fill="#1e1e1e"/>
<path d="M274.10,482.60 L278.40,480.40 L278.40,488.00 L274.10,485.80 Z" fill="#444"/>
<circle cx="399.60" cy="485.70" r="2.1" fill="#1e1e1e"/>
<path d="M399.90,484.10 L395.40,481.90 L395.40,489.50 L399.90,487.30 Z" fill="#444"/>
<circle cx="274.40" cy="492.25" r="2.1" fill="#1e1e1e"/>
<path d="M274.10,490.65 L278.40,488.45 L278.40,496.05 L274.10,493.85 Z" fill="#444"/>
<circle cx="399.60" cy="493.75" r="2.1" fill="#1e1e1e"/>
<path d="M399.90,492.15 L395.40,489.95 L395.40,497.55 L399.90,495.35 Z" fill="#444"/>
<circle cx="274.40" cy="500.30" r="2.1" fill="#1e1e1e"/>
<path d="M274.10,498.70 L278.40,496.50 L278.40,504.10 L274.10,501.90 Z" fill="#444"/>
<circle cx="399.60" cy="501.80" r="2.1" fill="#1e1e1e"/>
<path d="M399.90,500.20 L395.40,498.00 L395.40,505.60 L399.90,503.40 Z" fill="#444"/>
<circle cx="274.40" cy="508.35" r="2.1" fill="#1e1e1e"/>
<path d="M274.10,506.75 L278.40,504.55 L278.40,512.15 L274.10,509.95 Z" fill="#444"/>
<circle cx="399.60" cy="509.85" r="2.1" fill="#1e1e1e"/>
<path d="M399.90,508.25 L395.40,506.05 L395.40,513.65 L399.90,511.45 Z" fill="#444"/>
<circle cx="274.40" cy="516.40" r="2.1" fill="#1e1e1e"/>
<path d="M274.10,514.80 L278.40,512.60 L278.40,520.20 L274.10,518.00 Z" fill="#444"/>
<circle cx="399.60" cy="517.90" r="2.1" fill="#1e1e1e"/>
<path d="M399.90,516.30 L395.40,514.10 L395.40,521.70 L399.90,519.50 Z" fill="#444"/>
<circle cx="274.40" cy="524.45" r="2.1" fill="#1e1e1e"/>
<path d="M274.10,522.85 L278.40,520.65 L278.40,528.25 L274.10,526.05 Z" fill="#444"/>
<circle cx="399.60" cy="525.95" r="2.1" fill="#1e1e1e"/>
<path d="M399.90,524.35 L395.40,522.15 L395.40,529.75 L399.90,527.55 Z" fill="#444"/>
<line x1="277.4" y1="479.6" x2="277.4" y2="528.2" stroke="#333" stroke-width="1.8" />
<line x1="396.40000000000003" y1="479.6" x2="396.40000000000003" y2="528.2" stroke="#333" stroke-width="1.8" />
<line x1="276.9" y1="480.20000000000005" x2="396.90000000000003" y2="480.20000000000005" stroke="#151515" stroke-width="2.8" />
<path d="M277.4,527.2 L280.4,531.2 L393.40000000000003,531.2 L396.40000000000003,527.2" fill="none" stroke="#333" stroke-width="2.2" />
<rect x="279.9" y="528.0" width="114.00000000000006" height="2.4" fill="#dedede"/>
<line x1="277.4" y1="527.0" x2="396.40000000000003" y2="527.0" stroke="#333" stroke-width="1.6" />
<line x1="134.5" y1="463" x2="134.5" y2="531.5" stroke="#333" stroke-width="1.8" />
<line x1="336.5" y1="463" x2="336.5" y2="531.5" stroke="#333" stroke-width="1.8" />
<circle cx="336.5" cy="392.4" r="63.6" fill="none" stroke="#484848" stroke-width="2.0"/>
<path d="M336.5,334.09999999999997 A58.3,58.3 0 1,1 278.2,392.4" fill="none" stroke="#484848" stroke-width="2.0"/>
<circle cx="336.5" cy="392.4" r="53" fill="none" stroke="#484848" stroke-width="2.0"/>
<circle cx="336.5" cy="392.4" r="48" fill="none" stroke="#484848" stroke-width="2.0"/>
<circle cx="336.5" cy="392.4" r="39.5" fill="none" stroke="#484848" stroke-width="2.0"/>
<line x1="291" y1="438" x2="281.3" y2="448.2" stroke="#484848" stroke-width="2.0" />
<line x1="381.8" y1="438" x2="391.8" y2="448.2" stroke="#484848" stroke-width="2.0" />
<line x1="365" y1="334.3" x2="408.5" y2="334.3" stroke="#484848" stroke-width="2.0" />
<path d="M400.4,334.3 L408.4,334.3 L413.2,331.7 L430.7,331.7 Q434,330 436.2,324.5" fill="none" stroke="#484848" stroke-width="2.0" />
<path d="M395.8,450.8 L408.4,450.8 L413.2,453.4 L430.7,453.4 Q434,455 436.2,460.5 L437,470" fill="none" stroke="#484848" stroke-width="2.0" />
<line x1="408.4" y1="332" x2="408.4" y2="453.2" stroke="#484848" stroke-width="2.0" />
<line x1="413.2" y1="332" x2="413.2" y2="453.2" stroke="#484848" stroke-width="2.0" />
<line x1="430.7" y1="332" x2="430.7" y2="453.2" stroke="#484848" stroke-width="2.0" />
<line x1="436.2" y1="332" x2="436.2" y2="453.2" stroke="#484848" stroke-width="2.0" />
<path d="M442.0,304.8 L506.5,304.8 Q512.1,305.8 511.3,323.9 Q511.8,340.9 506.5,341.9 L442.0,341.9 Q436.2,340.9 436.0,323.9 Q436.2,305.8 442.0,304.8 Z" fill="none" stroke="#484848" stroke-width="2.0" />
<path d="M442.0,443.3 L506.5,443.3 Q512.1,444.3 511.3,461.3 Q511.8,479.4 506.5,480.4 L442.0,480.4 Q436.2,479.4 436.0,461.3 Q436.2,444.3 442.0,443.3 Z" fill="none" stroke="#484848" stroke-width="2.0" />
<path d="M437.0,341.9 L442.0,341.9 L442.0,356.3 L437.0,356.3 Q435.8,349.1 437.0,341.9 Z" fill="#a8a8a8"/>
<path d="M511.3,341.9 L506.5,341.9 L506.5,356.3 L511.3,356.3 Q512.5,349.1 511.3,341.9 Z" fill="#a8a8a8"/>
<line x1="511.3" y1="341.9" x2="511.3" y2="356.3" stroke="#484848" stroke-width="1.6" />
<line x1="442.0" y1="341.9" x2="442.0" y2="356.3" stroke="#484848" stroke-width="1.4" />
<line x1="506.5" y1="341.9" x2="506.5" y2="356.3" stroke="#484848" stroke-width="1.4" />
<line x1="442.0" y1="341.9" x2="506.5" y2="341.9" stroke="#484848" stroke-width="2.0" />
<line x1="442.0" y1="356.3" x2="506.5" y2="356.3" stroke="#484848" stroke-width="2.0" />
<path d="M437.0,429.2 L442.0,429.2 L442.0,443.3 L437.0,443.3 Q435.8,436.25 437.0,429.2 Z" fill="#a8a8a8"/>
<path d="M511.3,429.2 L506.5,429.2 L506.5,443.3 L511.3,443.3 Q512.5,436.25 511.3,429.2 Z" fill="#a8a8a8"/>
<line x1="511.3" y1="429.2" x2="511.3" y2="443.3" stroke="#484848" stroke-width="1.6" />
<line x1="442.0" y1="429.2" x2="442.0" y2="443.3" stroke="#484848" stroke-width="1.4" />
<line x1="506.5" y1="429.2" x2="506.5" y2="443.3" stroke="#484848" stroke-width="1.4" />
<line x1="442.0" y1="429.2" x2="506.5" y2="429.2" stroke="#484848" stroke-width="2.0" />
<line x1="442.0" y1="443.3" x2="506.5" y2="443.3" stroke="#484848" stroke-width="2.0" />
<path d="M442.0,356.3 Q432.0,392.7 442.0,429.2" fill="none" stroke="#484848" stroke-width="2.0" />
<path d="M506.5,356.3 Q516.3,392.7 506.5,429.2" fill="none" stroke="#484848" stroke-width="2.0" />
<line x1="511" y1="337.3" x2="549" y2="337.3" stroke="#484848" stroke-width="2.0" />
<line x1="511" y1="447.9" x2="549" y2="447.9" stroke="#484848" stroke-width="2.0" />
<rect x="548.8" y="340.2" width="71.70000000000005" height="104.60000000000002" fill="#8c8c8c"/>
<path d="M550.93,341.2 Q548.33,392.50 551.53,443.8" fill="none" stroke="#b8b8b8" stroke-width="1.7"/>
<path d="M554.00,340.2 Q551.40,392.50 554.60,444.8" fill="none" stroke="#262626" stroke-width="1.9"/>
<path d="M551.10,340.80 L554.00,336.80 L556.90,340.80 Z" fill="#1e1e1e" stroke="#1e1e1e" stroke-width="0.8" stroke-linejoin="round"/>
<path d="M551.70,444.20 L554.60,448.20 L557.50,444.20 Z" fill="#1e1e1e" stroke="#1e1e1e" stroke-width="0.8" stroke-linejoin="round"/>
<path d="M557.08,341.2 Q554.48,392.50 557.68,443.8" fill="none" stroke="#b8b8b8" stroke-width="1.7"/>
<path d="M560.15,340.2 Q557.55,392.50 560.75,444.8" fill="none" stroke="#262626" stroke-width="1.9"/>
<path d="M557.25,340.80 L560.15,336.80 L563.05,340.80 Z" fill="#1e1e1e" stroke="#1e1e1e" stroke-width="0.8" stroke-linejoin="round"/>
<path d="M557.85,444.20 L560.75,448.20 L563.65,444.20 Z" fill="#1e1e1e" stroke="#1e1e1e" stroke-width="0.8" stroke-linejoin="round"/>
<path d="M563.23,341.2 Q560.62,392.50 563.83,443.8" fill="none" stroke="#b8b8b8" stroke-width="1.7"/>
<path d="M566.30,340.2 Q563.70,392.50 566.90,444.8" fill="none" stroke="#262626" stroke-width="1.9"/>
<path d="M563.40,340.80 L566.30,336.80 L569.20,340.80 Z" fill="#1e1e1e" stroke="#1e1e1e" stroke-width="0.8" stroke-linejoin="round"/>
<path d="M564.00,444.20 L566.90,448.20 L569.80,444.20 Z" fill="#1e1e1e" stroke="#1e1e1e" stroke-width="0.8" stroke-linejoin="round"/>
<path d="M569.38,341.2 Q566.78,392.50 569.98,443.8" fill="none" stroke="#b8b8b8" stroke-width="1.7"/>
<path d="M572.45,340.2 Q569.85,392.50 573.05,444.8" fill="none" stroke="#262626" stroke-width="1.9"/>
<path d="M569.55,340.80 L572.45,336.80 L575.35,340.80 Z" fill="#1e1e1e" stroke="#1e1e1e" stroke-width="0.8" stroke-linejoin="round"/>
<path d="M570.15,444.20 L573.05,448.20 L575.95,444.20 Z" fill="#1e1e1e" stroke="#1e1e1e" stroke-width="0.8" stroke-linejoin="round"/>
<path d="M575.53,341.2 Q572.93,392.50 576.13,443.8" fill="none" stroke="#b8b8b8" stroke-width="1.7"/>
<path d="M578.60,340.2 Q576.00,392.50 579.20,444.8" fill="none" stroke="#262626" stroke-width="1.9"/>
<path d="M575.70,340.80 L578.60,336.80 L581.50,340.80 Z" fill="#1e1e1e" stroke="#1e1e1e" stroke-width="0.8" stroke-linejoin="round"/>
<path d="M576.30,444.20 L579.20,448.20 L582.10,444.20 Z" fill="#1e1e1e" stroke="#1e1e1e" stroke-width="0.8" stroke-linejoin="round"/>
<path d="M581.68,341.2 Q579.08,392.50 582.28,443.8" fill="none" stroke="#b8b8b8" stroke-width="1.7"/>
<path d="M584.75,340.2 Q582.15,392.50 585.35,444.8" fill="none" stroke="#262626" stroke-width="1.9"/>
<path d="M581.85,340.80 L584.75,336.80 L587.65,340.80 Z" fill="#1e1e1e" stroke="#1e1e1e" stroke-width="0.8" stroke-linejoin="round"/>
<path d="M582.45,444.20 L585.35,448.20 L588.25,444.20 Z" fill="#1e1e1e" stroke="#1e1e1e" stroke-width="0.8" stroke-linejoin="round"/>
<path d="M587.83,341.2 Q585.23,392.50 588.43,443.8" fill="none" stroke="#b8b8b8" stroke-width="1.7"/>
<path d="M590.90,340.2 Q588.30,392.50 591.50,444.8" fill="none" stroke="#262626" stroke-width="1.9"/>
<path d="M588.00,340.80 L590.90,336.80 L593.80,340.80 Z" fill="#1e1e1e" stroke="#1e1e1e" stroke-width="0.8" stroke-linejoin="round"/>
<path d="M588.60,444.20 L591.50,448.20 L594.40,444.20 Z" fill="#1e1e1e" stroke="#1e1e1e" stroke-width="0.8" stroke-linejoin="round"/>
<path d="M593.98,341.2 Q591.38,392.50 594.58,443.8" fill="none" stroke="#b8b8b8" stroke-width="1.7"/>
<path d="M597.05,340.2 Q594.45,392.50 597.65,444.8" fill="none" stroke="#262626" stroke-width="1.9"/>
<path d="M594.15,340.80 L597.05,336.80 L599.95,340.80 Z" fill="#1e1e1e" stroke="#1e1e1e" stroke-width="0.8" stroke-linejoin="round"/>
<path d="M594.75,444.20 L597.65,448.20 L600.55,444.20 Z" fill="#1e1e1e" stroke="#1e1e1e" stroke-width="0.8" stroke-linejoin="round"/>
<path d="M600.13,341.2 Q597.53,392.50 600.73,443.8" fill="none" stroke="#b8b8b8" stroke-width="1.7"/>
<path d="M603.20,340.2 Q600.60,392.50 603.80,444.8" fill="none" stroke="#262626" stroke-width="1.9"/>
<path d="M600.30,340.80 L603.20,336.80 L606.10,340.80 Z" fill="#1e1e1e" stroke="#1e1e1e" stroke-width="0.8" stroke-linejoin="round"/>
<path d="M600.90,444.20 L603.80,448.20 L606.70,444.20 Z" fill="#1e1e1e" stroke="#1e1e1e" stroke-width="0.8" stroke-linejoin="round"/>
<path d="M606.28,341.2 Q603.68,392.50 606.88,443.8" fill="none" stroke="#b8b8b8" stroke-width="1.7"/>
<path d="M609.35,340.2 Q606.75,392.50 609.95,444.8" fill="none" stroke="#262626" stroke-width="1.9"/>
<path d="M606.45,340.80 L609.35,336.80 L612.25,340.80 Z" fill="#1e1e1e" stroke="#1e1e1e" stroke-width="0.8" stroke-linejoin="round"/>
<path d="M607.05,444.20 L609.95,448.20 L612.85,444.20 Z" fill="#1e1e1e" stroke="#1e1e1e" stroke-width="0.8" stroke-linejoin="round"/>
<path d="M612.43,341.2 Q609.83,392.50 613.03,443.8" fill="none" stroke="#b8b8b8" stroke-width="1.7"/>
<path d="M615.50,340.2 Q612.90,392.50 616.10,444.8" fill="none" stroke="#262626" stroke-width="1.9"/>
<path d="M612.60,340.80 L615.50,336.80 L618.40,340.80 Z" fill="#1e1e1e" stroke="#1e1e1e" stroke-width="0.8" stroke-linejoin="round"/>
<path d="M613.20,444.20 L616.10,448.20 L619.00,444.20 Z" fill="#1e1e1e" stroke="#1e1e1e" stroke-width="0.8" stroke-linejoin="round"/>
<line x1="548.8" y1="337.3" x2="548.8" y2="447.7" stroke="#1e1e1e" stroke-width="2.0" />
<line x1="619.6" y1="340.2" x2="619.6" y2="444.8" stroke="#1e1e1e" stroke-width="2.2" />
<line x1="548.8" y1="340.2" x2="620.5" y2="340.2" stroke="#555" stroke-width="1.0" />
<line x1="548.8" y1="444.8" x2="620.5" y2="444.8" stroke="#555" stroke-width="1.0" />
<line x1="437" y1="392.8" x2="620.5" y2="392.8" stroke="#1a1a1a" stroke-width="2.2" />
<line x1="620.5" y1="392.9" x2="712.5" y2="392.9" stroke="#6a6a6a" stroke-width="2.6" />
<text transform="translate(204.87,101.07) scale(0.9924,1)" x="0" y="0" font-size="47.3" font-family="Liberation Sans, sans-serif" fill="#111">38</text>
<text transform="translate(458.51,100.43) scale(0.9457,1)" x="0" y="0" font-size="47.3" font-family="Liberation Sans, sans-serif" fill="#111">53,5</text>
<text transform="translate(342.46,212.27) scale(0.9446,1)" x="0" y="0" font-size="47.3" font-family="Liberation Sans, sans-serif" fill="#111">3</text>
<text transform="translate(385.11,212.50) scale(1.0446,1)" x="0" y="0" font-size="47.3" font-family="Liberation Sans, sans-serif" fill="#111">4</text>
<path d="M368.10,214.00 L371.60,214.00 L386.50,177.80 L383.00,177.80 Z" fill="#111"/>
<path d="M414.15,189.70 L416.35,189.70 L421.15,177.60 L417.35,177.60 Z" fill="#111"/>
<path d="M422.15,189.70 L424.35,189.70 L429.45,177.60 L425.65,177.60 Z" fill="#111"/>
<text transform="translate(98.11,627.97) scale(0.9446,1)" x="0" y="0" font-size="47.3" font-family="Liberation Sans, sans-serif" fill="#111">3</text>
<text transform="translate(140.76,628.21) scale(1.0446,1)" x="0" y="0" font-size="47.3" font-family="Liberation Sans, sans-serif" fill="#111">4</text>
<path d="M123.75,629.60 L127.25,629.60 L142.15,593.60 L138.65,593.60 Z" fill="#111"/>
<path d="M169.80,605.50 L172.00,605.50 L176.80,593.40 L173.00,593.40 Z" fill="#111"/>
<path d="M177.80,605.50 L180.00,605.50 L185.10,593.40 L181.30,593.40 Z" fill="#111"/>
<text transform="translate(297.11,627.97) scale(0.9446,1)" x="0" y="0" font-size="47.3" font-family="Liberation Sans, sans-serif" fill="#111">3</text>
<text transform="translate(339.76,628.21) scale(1.0446,1)" x="0" y="0" font-size="47.3" font-family="Liberation Sans, sans-serif" fill="#111">4</text>
<path d="M322.75,629.60 L326.25,629.60 L341.15,593.60 L337.65,593.60 Z" fill="#111"/>
<path d="M368.80,605.50 L371.00,605.50 L375.80,593.40 L372.00,593.40 Z" fill="#111"/>
<path d="M376.80,605.50 L379.00,605.50 L384.10,593.40 L380.30,593.40 Z" fill="#111"/>
<rect x="703.40" y="354.50" width="4.2" height="32.90" fill="#111"/>
<line x1="705.20" y1="356.50" x2="697.50" y2="361.10" stroke="#111" stroke-width="3.8" stroke-linecap="round"/>
<text transform="translate(734.64,387.50) scale(0.9973,1)" x="0" y="0" font-size="47.3" font-family="Liberation Sans, sans-serif" fill="#111">2</text>
<path d="M716.85,389.70 L720.35,389.70 L734.75,353.30 L731.25,353.30 Z" fill="#111"/>
<path d="M762.90,364.50 L765.10,364.50 L770.10,353.60 L766.30,353.60 Z" fill="#111"/>
<path d="M771.90,364.50 L774.10,364.50 L779.30,353.60 L775.50,353.60 Z" fill="#111"/>
<text transform="translate(654.01,509.16) scale(1.0115,1)" x="0" y="0" font-size="47.3" font-family="Liberation Sans, sans-serif" fill="#111">26</text>
<rect x="266.90" y="685.30" width="4.2" height="33.50" fill="#111"/>
<line x1="268.70" y1="687.30" x2="261.00" y2="691.90" stroke="#111" stroke-width="3.8" stroke-linecap="round"/>
<rect x="293.20" y="685.30" width="4.2" height="33.50" fill="#111"/>
<line x1="295.00" y1="687.30" x2="287.30" y2="691.90" stroke="#111" stroke-width="3.8" stroke-linecap="round"/>
<text transform="translate(307.01,718.55) scale(1.0446,1)" x="0" y="0" font-size="47.3" font-family="Liberation Sans, sans-serif" fill="#111">4</text>
</svg>
</body></html>
